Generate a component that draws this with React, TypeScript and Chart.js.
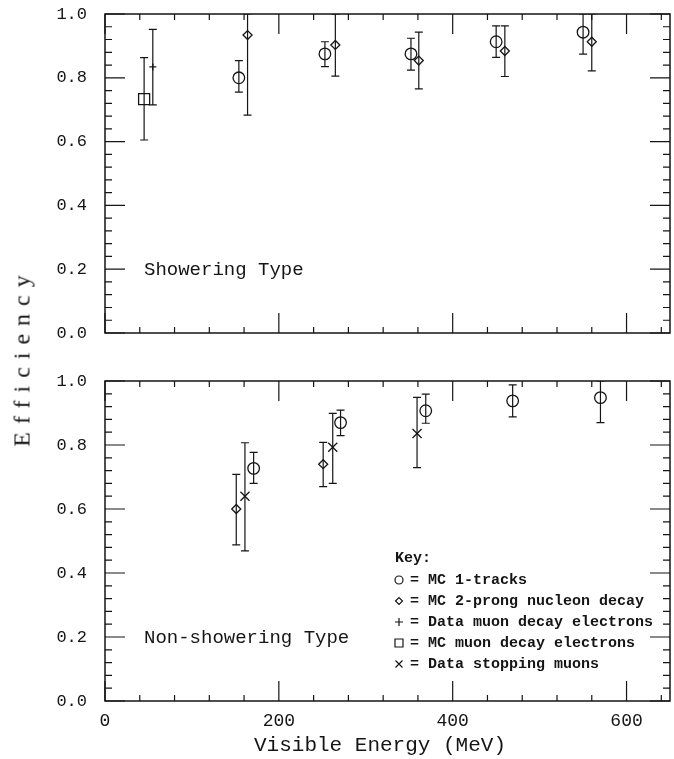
import React, { useEffect, useRef } from 'react';
import { Chart, registerables } from 'chart.js';

Chart.register(...registerables);

// ---------- text / ticks ----------
const X_TICKS = [0, 200, 400, 600];
const Y_TICKS = [0, 0.2, 0.4, 0.6, 0.8, 1.0];
const X_TITLE = 'Visible Energy (MeV)';
const Y_TITLE = 'Efficiency';
const TOP_PANEL_LABEL = 'Showering Type';
const BOTTOM_PANEL_LABEL = 'Non-showering Type';
const KEY_TITLE = 'Key:';
const SERIES_LABELS = [
  'MC 1-tracks',
  'MC 2-prong nucleon decay',
  'Data muon decay electrons',
  'MC muon decay electrons',
  'Data stopping muons',
];

// ---------- Showering type ----------
const showMc1E = [154, 253, 352, 450, 550];
const showMc1Eff = [0.8, 0.875, 0.875, 0.913, 0.943];
const showMc1Lo = [0.755, 0.835, 0.824, 0.864, 0.874];
const showMc1Hi = [0.854, 0.913, 0.924, 0.963, 1.0];

const showMc2E = [164, 265, 361, 460, 560];
const showMc2Eff = [0.934, 0.903, 0.854, 0.884, 0.913];
const showMc2Lo = [0.683, 0.805, 0.765, 0.804, 0.822];
const showMc2Hi = [1.0, 1.0, 0.943, 0.963, 1.0];

const showDataMuE = [55];
const showDataMuEff = [0.834];
const showDataMuLo = [0.715];
const showDataMuHi = [0.952];

const showMcMuE = [45];
const showMcMuEff = [0.733];
const showMcMuLo = [0.605];
const showMcMuHi = [0.863];

// ---------- Non-showering type ----------
const nonMc1E = [171, 271, 369, 469, 570];
const nonMc1Eff = [0.727, 0.87, 0.907, 0.938, 0.948];
const nonMc1Lo = [0.68, 0.829, 0.868, 0.888, 0.87];
const nonMc1Hi = [0.777, 0.909, 0.959, 0.988, 1.0];

const nonMc2E = [151, 251];
const nonMc2Eff = [0.6, 0.74];
const nonMc2Lo = [0.488, 0.67];
const nonMc2Hi = [0.708, 0.808];

const nonStopE = [161, 262, 359];
const nonStopEff = [0.64, 0.793, 0.836];
const nonStopLo = [0.469, 0.68, 0.729];
const nonStopHi = [0.807, 0.899, 0.949];

// ---------- styles ----------
const INK = '#151515';
const SYMBOLS = ['circle', 'rectRot', 'cross', 'rect', 'crossRot'];
const RADIUS: Record<string, number> = { circle: 5.8, rectRot: 4.5, cross: 3.5, rect: 7.8, crossRot: 6.4 };
const CAP = 4;

function makeDataset(series: number, xs: number[], ys: number[], lo: number[], hi: number[]) {
  const style = SYMBOLS[series];
  return {
    label: SERIES_LABELS[series],
    data: xs.map((x, i) => ({ x, y: ys[i] })),
    errLo: lo,
    errHi: hi,
    pointStyle: style,
    pointRadius: RADIUS[style],
    pointHoverRadius: RADIUS[style],
    borderColor: INK,
    backgroundColor: 'rgba(0,0,0,0)',
    borderWidth: 1.3,
    showLine: false,
  };
}

const errorBarPlugin = {
  id: 'errorBars',
  beforeDatasetsDraw(chart: any) {
    const { ctx, chartArea, scales } = chart;
    const xs = scales.x;
    const ys = scales.y;
    ctx.save();
    ctx.beginPath();
    ctx.rect(chartArea.left, chartArea.top, chartArea.right - chartArea.left, chartArea.bottom - chartArea.top);
    ctx.clip();
    ctx.strokeStyle = INK;
    ctx.lineWidth = 1.2;
    chart.data.datasets.forEach((d: any) => {
      if (!d.errLo) return;
      d.data.forEach((p: any, i: number) => {
        const px = xs.getPixelForValue(p.x);
        const pl = ys.getPixelForValue(d.errLo[i]);
        const ph = ys.getPixelForValue(d.errHi[i]);
        ctx.beginPath();
        ctx.moveTo(px, pl);
        ctx.lineTo(px, ph);
        ctx.moveTo(px - CAP, pl);
        ctx.lineTo(px + CAP, pl);
        ctx.moveTo(px - CAP, ph);
        ctx.lineTo(px + CAP, ph);
        ctx.stroke();
      });
    });
    ctx.restore();
  },
};

const framePlugin = {
  id: 'frame',
  afterDraw(chart: any) {
    const { ctx, chartArea, scales } = chart;
    const { left, right, top, bottom } = chartArea;
    const xs = scales.x;
    const ys = scales.y;
    ctx.save();
    ctx.strokeStyle = INK;
    ctx.lineWidth = 1.5;
    ctx.strokeRect(left, top, right - left, bottom - top);
    ctx.lineWidth = 1.2;
    ctx.beginPath();
    for (let k = 0; k * 40 <= xs.max; k++) {
      const v = k * 40;
      const px = xs.getPixelForValue(v);
      const L = v % 200 === 0 ? 20 : 6;
      ctx.moveTo(px, bottom);
      ctx.lineTo(px, bottom - L);
      ctx.moveTo(px, top);
      ctx.lineTo(px, top + L);
    }
    for (let k = 0; k <= 25; k++) {
      const py = ys.getPixelForValue(k * 0.04);
      const L = k % 5 === 0 ? 20 : 7;
      ctx.moveTo(left, py);
      ctx.lineTo(left + L, py);
      ctx.moveTo(right, py);
      ctx.lineTo(right - L, py);
    }
    ctx.stroke();
    ctx.restore();
  },
};

function drawGlyph(ctx: CanvasRenderingContext2D, style: string, x: number, y: number) {
  ctx.beginPath();
  if (style === 'circle') {
    ctx.arc(x, y, 4, 0, Math.PI * 2);
  } else if (style === 'rectRot') {
    ctx.moveTo(x - 3.5, y);
    ctx.lineTo(x, y - 3.5);
    ctx.lineTo(x + 3.5, y);
    ctx.lineTo(x, y + 3.5);
    ctx.closePath();
  } else if (style === 'cross') {
    ctx.moveTo(x - 4, y);
    ctx.lineTo(x + 4, y);
    ctx.moveTo(x, y - 4);
    ctx.lineTo(x, y + 4);
  } else if (style === 'rect') {
    ctx.rect(x - 4, y - 4, 8, 8);
  } else {
    ctx.moveTo(x - 3.5, y - 3.5);
    ctx.lineTo(x + 3.5, y + 3.5);
    ctx.moveTo(x + 3.5, y - 3.5);
    ctx.lineTo(x - 3.5, y + 3.5);
  }
  ctx.stroke();
}

function makeTextPlugin(label: string, showKey: boolean) {
  return {
    id: 'panelText',
    afterDraw(chart: any) {
      const { ctx, chartArea, scales } = chart;
      ctx.save();
      ctx.fillStyle = INK;
      ctx.strokeStyle = INK;
      ctx.textBaseline = 'middle';
      ctx.textAlign = 'left';
      ctx.font = '19px "Liberation Mono", monospace';
      ctx.fillText(label, chartArea.left + 39, scales.y.getPixelForValue(0.2) + 1);
      if (showKey) {
        const kx = chartArea.left + 290;
        const ky = chartArea.top + 177;
        ctx.font = 'bold 15px "Liberation Mono", monospace';
        ctx.fillText(KEY_TITLE, kx, ky);
        ctx.lineWidth = 1.2;
        SERIES_LABELS.forEach((lab, i) => {
          const ry = ky + 22 + i * 21;
          drawGlyph(ctx, SYMBOLS[i], kx + 4, ry);
          ctx.fillText('= ' + lab, kx + 15, ry);
        });
      }
      ctx.restore();
    },
  };
}

const tickFont = { family: '"Liberation Mono", monospace', size: 17 };

function yScale() {
  return {
    type: 'linear',
    min: 0,
    max: 1,
    afterBuildTicks: (s: any) => {
      s.ticks = Y_TICKS.map((v) => ({ value: v }));
    },
    afterFit: (s: any) => {
      s.width = 105;
      s.paddingTop = 0;
      s.paddingBottom = 0;
      s.paddingLeft = 0;
      s.paddingRight = 0;
    },
    grid: { display: false, drawTicks: false },
    border: { display: false },
    ticks: {
      color: INK,
      font: tickFont,
      padding: 18,
      callback: (v: any) => Number(v).toFixed(1),
    },
  };
}

function buildConfig(datasets: any[], showXAxis: boolean, padding: any, label: string, showKey: boolean) {
  return {
    type: 'scatter',
    data: { datasets },
    options: {
      responsive: false,
      maintainAspectRatio: false,
      animation: false,
      events: [],
      layout: { padding, autoPadding: false },
      plugins: { legend: { display: false }, tooltip: { enabled: false }, title: { display: false } },
      scales: {
        x: {
          type: 'linear',
          min: 0,
          max: 650,
          display: showXAxis,
          afterBuildTicks: (s: any) => {
            s.ticks = X_TICKS.map((v) => ({ value: v }));
          },
          afterFit: (s: any) => {
            s.height = showXAxis ? 58 : 0;
            s.paddingTop = 0;
            s.paddingBottom = 0;
            s.paddingLeft = 0;
            s.paddingRight = 0;
          },
          grid: { display: false, drawTicks: false },
          border: { display: false },
          ticks: {
            color: INK,
            font: { family: '"Liberation Mono", monospace', size: 18 },
            padding: 9,
            maxRotation: 0,
            autoSkip: false,
          },
        },
        y: yScale(),
      },
    },
    plugins: [errorBarPlugin, framePlugin, makeTextPlugin(label, showKey)],
  };
}

export default function App() {
  const topRef = useRef<HTMLCanvasElement>(null);
  const botRef = useRef<HTMLCanvasElement>(null);

  useEffect(() => {
    const topSets = [
      makeDataset(0, showMc1E, showMc1Eff, showMc1Lo, showMc1Hi),
      makeDataset(1, showMc2E, showMc2Eff, showMc2Lo, showMc2Hi),
      makeDataset(2, showDataMuE, showDataMuEff, showDataMuLo, showDataMuHi),
      makeDataset(3, showMcMuE, showMcMuEff, showMcMuLo, showMcMuHi),
    ];
    const botSets = [
      makeDataset(0, nonMc1E, nonMc1Eff, nonMc1Lo, nonMc1Hi),
      makeDataset(1, nonMc2E, nonMc2Eff, nonMc2Lo, nonMc2Hi),
      makeDataset(4, nonStopE, nonStopEff, nonStopLo, nonStopHi),
    ];
    const top = new Chart(
      topRef.current as HTMLCanvasElement,
      buildConfig(topSets, false, { top: 14, right: 4, bottom: 17, left: 0 }, TOP_PANEL_LABEL, false) as any
    );
    const bot = new Chart(
      botRef.current as HTMLCanvasElement,
      buildConfig(botSets, true, { top: 21, right: 4, bottom: 0, left: 0 }, BOTTOM_PANEL_LABEL, true) as any
    );
    return () => {
      top.destroy();
      bot.destroy();
    };
  }, []);

  return (
    <div style={{ position: 'fixed', left: 0, top: 0, width: 674, height: 759, background: '#fff', overflow: 'hidden' }}>
      <canvas ref={topRef} width={674} height={350} style={{ position: 'absolute', left: 0, top: 0, width: 674, height: 350 }} />
      <canvas ref={botRef} width={674} height={399} style={{ position: 'absolute', left: 0, top: 360, width: 674, height: 399 }} />
      <div
        style={{
          position: 'absolute',
          left: 22,
          top: 357,
          transform: 'translate(-50%, -50%) rotate(-90deg)',
          font: '24px "Liberation Serif", serif',
          letterSpacing: '8px',
          whiteSpace: 'nowrap',
          color: INK,
        }}
      >
        {Y_TITLE}
      </div>
      <div
        style={{
          position: 'absolute',
          left: 380,
          top: 745,
          transform: 'translate(-50%, -50%)',
          font: '21px "Liberation Mono", monospace',
          whiteSpace: 'nowrap',
          color: INK,
        }}
      >
        {X_TITLE}
      </div>
    </div>
  );
}
